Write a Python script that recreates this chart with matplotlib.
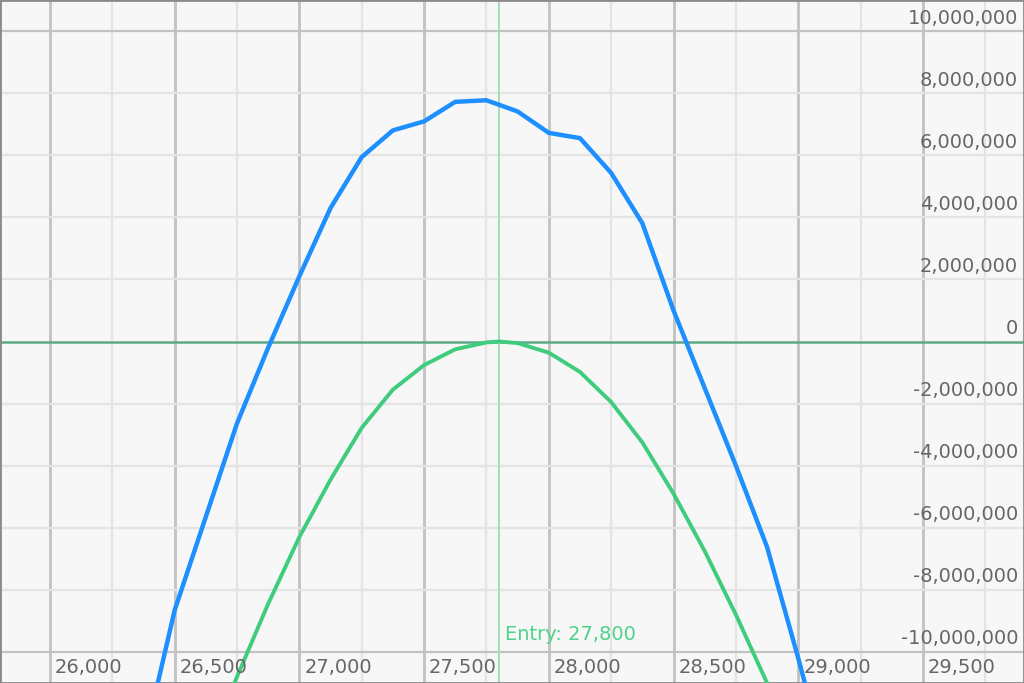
import numpy as np
import matplotlib
matplotlib.use("Agg")
import matplotlib.pyplot as plt

# price levels and P&L values (millions)
blue_x = [26375, 26500, 26625, 26750, 26875, 27000, 27125, 27250, 27375, 27500,
          27625, 27750, 27875, 28000, 28125, 28250, 28375, 28500, 28625, 28750,
          28875, 29000, 29125]
blue_y = [-13.0, -8.66, -5.65, -2.64, -0.2, 2.1, 4.30, 5.94, 6.80, 7.09,
          7.72, 7.77, 7.41, 6.72, 6.55, 5.43, 3.81, 1.0, -1.5, -4.0,
          -6.62, -10.2, -14.0]

green_x = [26625, 26750, 26875, 27000, 27125, 27250, 27375, 27500, 27625, 27750,
           27800, 27875, 28000, 28125, 28250, 28375, 28500, 28625, 28750, 28875,
           29000]
green_y = [-13.3, -10.8, -8.45, -6.30, -4.45, -2.78, -1.55, -0.76, -0.25, -0.03,
           0.0, -0.05, -0.36, -0.98, -1.95, -3.25, -4.90, -6.75, -8.8, -11.0,
           -13.5]

entry = 27800
x_major = [26000, 26500, 27000, 27500, 28000, 28500, 29000, 29500]
x_minor = [26250, 26750, 27250, 27750, 28250, 28750, 29250, 29750]
y_ticks = [10, 8, 6, 4, 2, 0, -2, -4, -6, -8, -10]

fig = plt.figure(figsize=(10.24, 6.83), dpi=100)
ax = fig.add_axes([0, 0, 1, 1])
ax.set_facecolor("#f7f7f7")
ax.set_xlim(25800, 29905)
ax.set_ylim(-11.0e6, 11.0e6)
ax.set_xticks([])
ax.set_yticks([])
for s in ax.spines.values():
    s.set_color("#8a8a8a")
    s.set_linewidth(2)

for xv in x_minor:
    ax.axvline(xv, color="#e4e4e4", lw=1.6, zorder=1)
for xv in x_major:
    ax.axvline(xv, color="#c2c2c2", lw=2.0, zorder=1)
for yv in y_ticks:
    if yv == 0:
        continue
    c = "#c2c2c2" if abs(yv) == 10 else "#e4e4e4"
    ax.axhline(yv * 1e6, color=c, lw=1.6, zorder=1)

ax.axhline(0, color="#5ea888", lw=1.8, zorder=2)
ax.axvline(entry, color="#9fe0ba", lw=1.4, zorder=2)

ax.plot(blue_x, np.array(blue_y) * 1e6, color="#1e8fff", lw=3.2, zorder=4,
        solid_joinstyle="round")
ax.plot(green_x, np.array(green_y) * 1e6, color="#3fcc7c", lw=2.8, zorder=3,
        solid_joinstyle="round")

for xv in x_major:
    ax.annotate(f"{xv:,}", xy=(xv, -10e6), xytext=(5, -16),
                textcoords="offset pixels", ha="left", va="center",
                fontsize=14, color="#666666", zorder=5)

ytr = ax.get_yaxis_transform()
for yv in y_ticks:
    ax.annotate(f"{int(yv * 1e6):,}", xy=(1.0, yv * 1e6), xycoords=ytr,
                xytext=(-6, 13), textcoords="offset pixels", ha="right",
                va="center", fontsize=14, color="#666666", zorder=5)

ax.annotate(f"Entry: {entry:,}", xy=(entry, -10e6), xytext=(6, 17),
            textcoords="offset pixels", ha="left", va="center",
            fontsize=14, color="#4fd389", zorder=5)

fig.savefig("out.png", dpi=100)
